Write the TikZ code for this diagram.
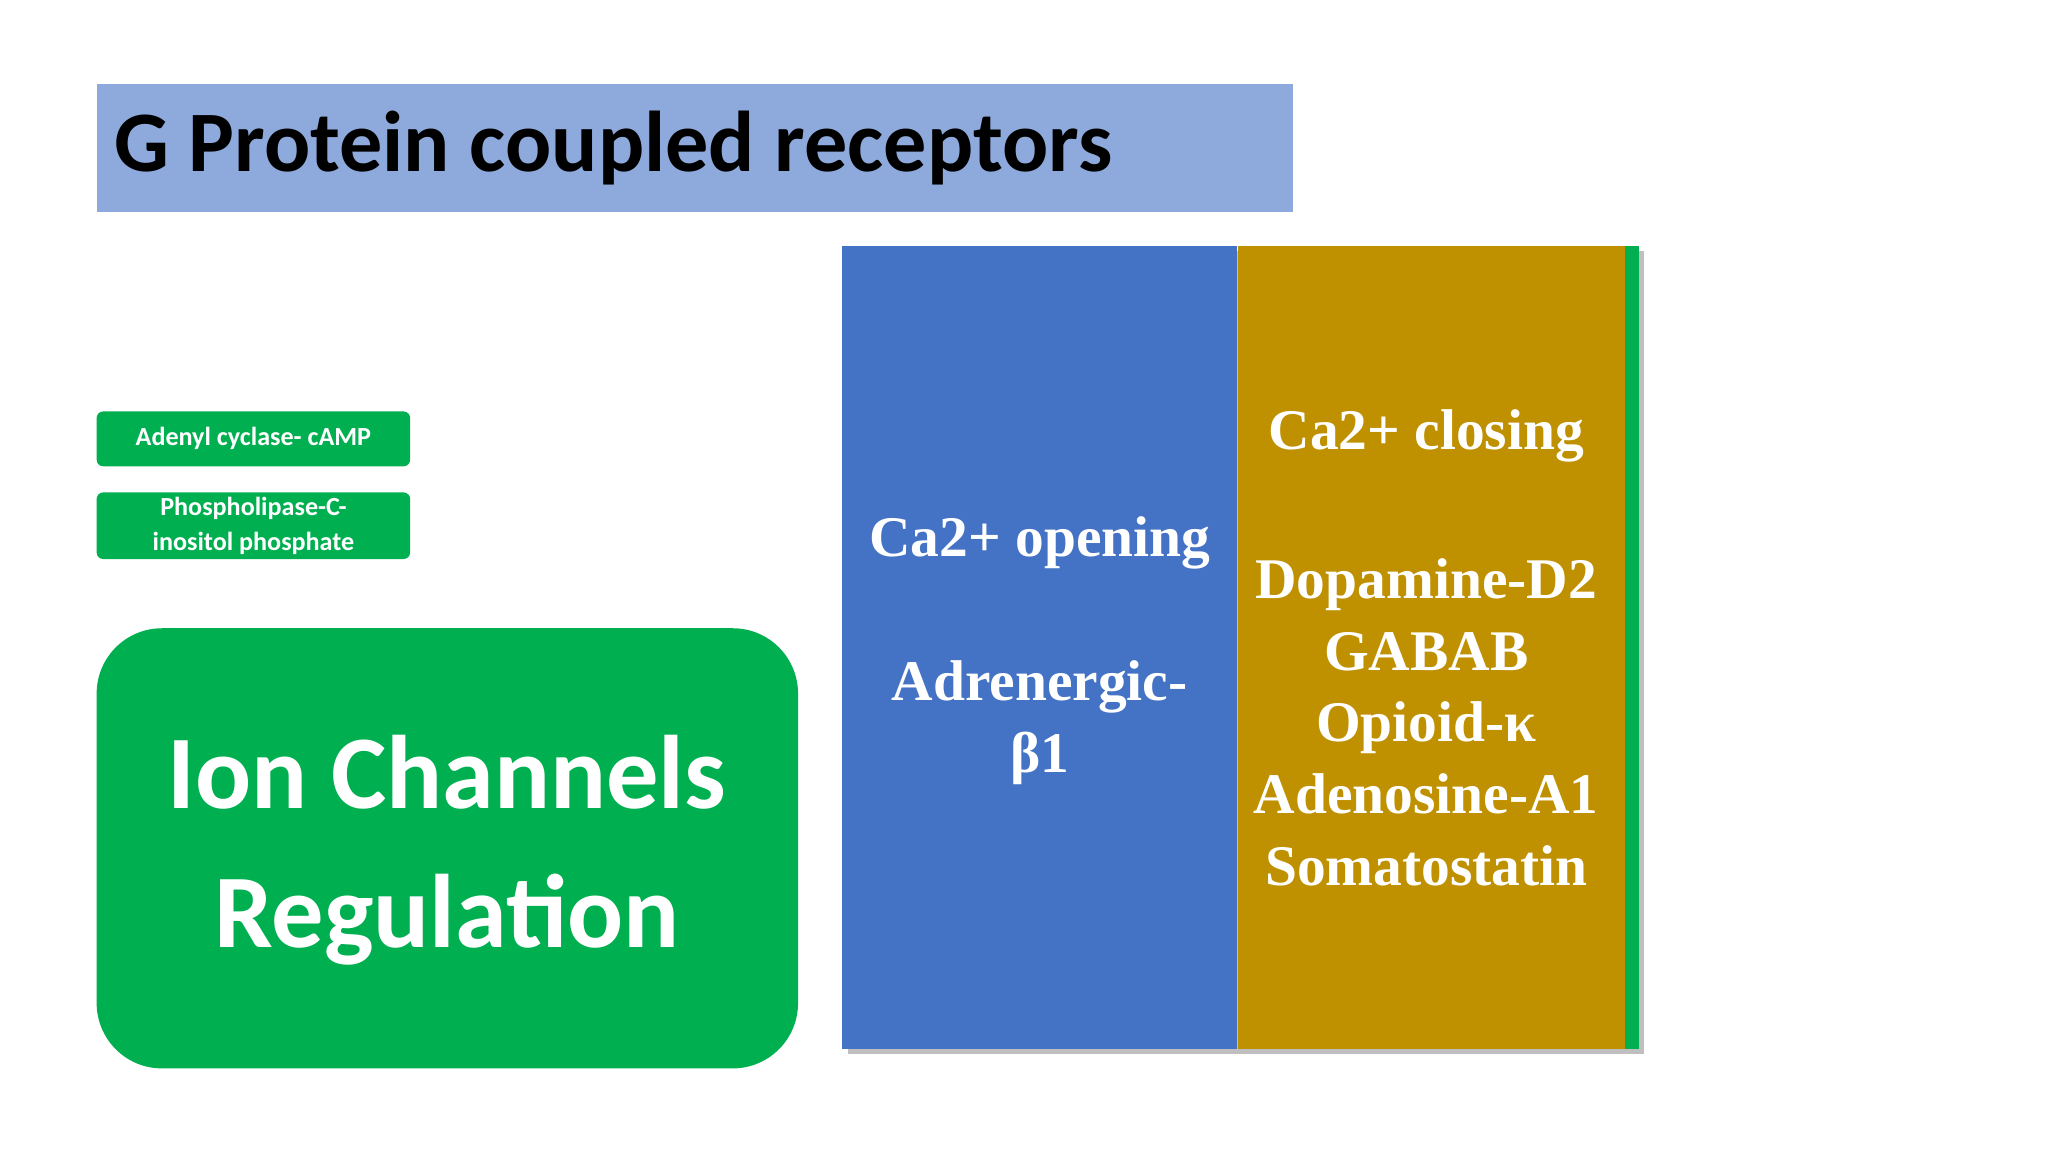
\documentclass[tikz,border=0pt]{standalone}
\usepackage{fontspec}
\setmainfont{Liberation Serif}
\newfontfamily\calfont{Carlito}
\definecolor{tblue}{HTML}{8EA9DB}
\definecolor{gr}{HTML}{00B050}
\definecolor{cb}{HTML}{4472C4}
\definecolor{gold}{HTML}{BF9000}
\begin{document}
\begin{tikzpicture}[x=1pt,y=-1pt,
  small/.style={fill=gr,rounded corners=5pt,draw=none},
  wt/.style={text=white,font=\bfseries,align=center}]
\useasboundingbox (0,0) rectangle (1568,882);
\fill[tblue] (74,64) rectangle (990,162);
\node[anchor=west,font=\calfont\bfseries\fontsize{66}{70}\selectfont] (title) at (84,113) {G Protein coupled receptors};
\fill[small] (74,315) rectangle (314,357);
\node[wt,font=\calfont\bfseries\fontsize{20}{22}\selectfont] (a) at (194,336) {Adenyl cyclase- cAMP};
\fill[small] (74,377) rectangle (314,428);
\node[wt,font=\calfont\bfseries\fontsize{20}{27}\selectfont] (b) at (194,402.5) {Phospholipase-C-\\inositol phosphate};
\fill[gr,rounded corners=50pt] (74,481) rectangle (611,818);
\node[wt,font=\calfont\bfseries\fontsize{80}{106}\selectfont] (ion) at (342,651) {Ion Channels\\Regulation};
\fill[black!25] (649,192) rectangle (1259,807);
\fill[cb] (645,188) rectangle (947,803);
\fill[gold] (948,188) rectangle (1244,803);
\fill[gr] (1244,188) rectangle (1255,803);
\node[wt,font=\bfseries\fontsize{44}{55}\selectfont] (op) at (796,416) {Ca2+ opening};
\node[wt,font=\bfseries\fontsize{44}{55}\selectfont] (ad) at (796,553.5) {Adrenergic-\\β1};
\node[wt,font=\bfseries\fontsize{44}{55}\selectfont] (cl) at (1092,334) {Ca2+ closing};
\node[wt,font=\bfseries\fontsize{44}{55}\selectfont] (list) at (1092,553) {Dopamine-D2\\GABAB\\Opioid-κ\\Adenosine-A1\\Somatostatin};
\end{tikzpicture}
\end{document}
